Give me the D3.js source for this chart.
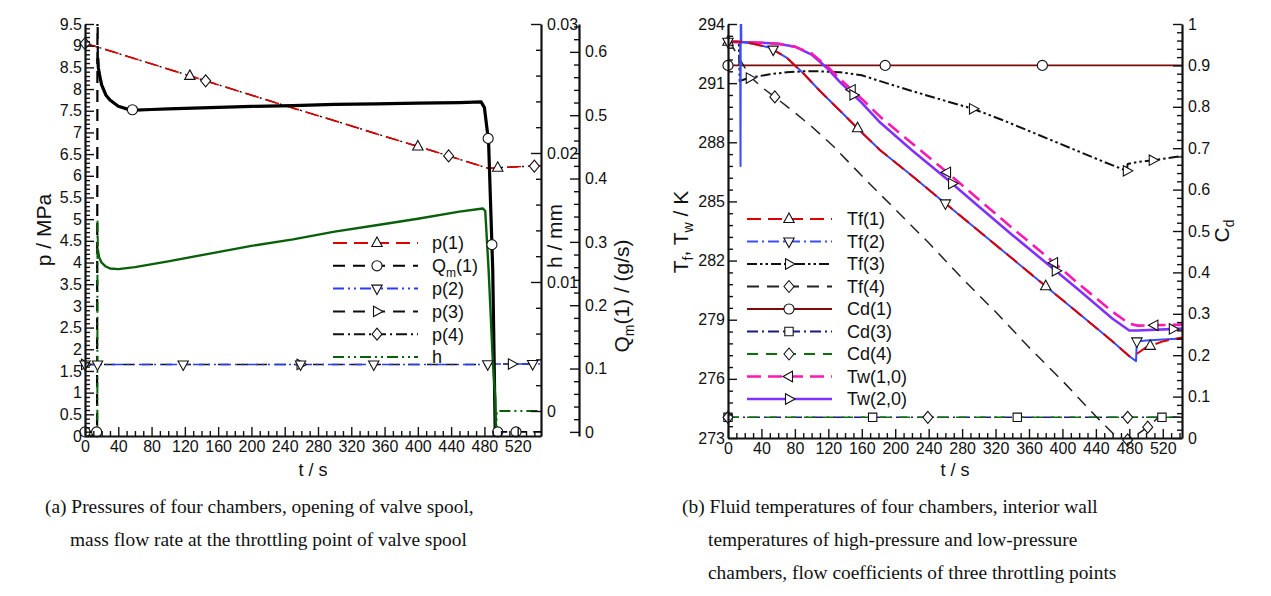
<!DOCTYPE html>
<html>
<head>
<meta charset="utf-8">
<script src="https://cdn.jsdelivr.net/npm/d3@7"></script>
<style>
body { margin: 0; background: #fff; }
text { font-family: "Liberation Sans", Arial, sans-serif; fill: #111; }
.cap { font-family: "Liberation Serif", "Times New Roman", serif; font-size: 19.4px; }
</style>
</head>
<body>
<svg id="fig" width="1271" height="596"></svg>
<script>
// ---------- chart (a): pressures, spool opening, mass flow ----------
var tP1 = [0, 15, 60, 120, 180, 240, 300, 360, 420, 470, 485, 500, 520, 548];
var p1 = [9.05, 8.97, 8.70, 8.34, 7.98, 7.62, 7.27, 6.91, 6.56, 6.26, 6.17, 6.19, 6.21, 6.23];
var tP4 = [0, 15, 60, 120, 180, 240, 300, 360, 420, 470, 485, 500, 520, 548];
var p4 = [9.05, 8.97, 8.70, 8.34, 7.98, 7.62, 7.27, 6.91, 6.56, 6.26, 6.17, 6.19, 6.21, 6.23];
var tP2 = [0, 15, 100, 300, 480, 490, 548];
var p2 = [1.65, 1.65, 1.65, 1.65, 1.65, 1.66, 1.66];
var tP3 = [0, 15, 100, 300, 480, 490, 548];
var p3 = [1.65, 1.65, 1.65, 1.65, 1.65, 1.66, 1.66];
var tQ = [0, 14.5, 15, 15.4, 16, 18, 20, 25, 30, 40, 50, 60, 80, 100, 150, 200, 250, 300, 350, 400, 450, 476, 480, 485, 490, 493, 548];
var qm = [0, 0, 0.70, 0.59, 0.575, 0.560, 0.548, 0.532, 0.524, 0.514, 0.510, 0.508, 0.509, 0.510, 0.512, 0.514, 0.515, 0.517, 0.518, 0.519, 0.520, 0.521, 0.512, 0.458, 0.255, 0, 0];
var tH = [0, 14.8, 15, 15.5, 17, 20, 25, 30, 40, 60, 100, 150, 200, 250, 300, 350, 400, 450, 478, 481, 485, 490, 493, 494, 495, 548];
var hOpen = [-0.0019, -0.0019, 0.0148, 0.0125, 0.0119, 0.0115, 0.0112, 0.01105, 0.0110, 0.01115, 0.0116, 0.0122, 0.0128, 0.0133, 0.0139, 0.0144, 0.0149, 0.01545, 0.0157, 0.0155, 0.011, 0.004, 0.001, -0.0019, 0, 0];

var mkP1 = [126, 400, 496];
var mkQ = [0, 14, 57, 484.5, 489, 496, 518];
var mkP2 = [0, 15, 118, 259, 347, 484, 538];
var mkP3 = [0, 259, 513];
var mkP4 = [0, 145, 437, 540];

var pTicks = d3.range(0, 9.51, 0.5);
var hTicks = [0, 0.01, 0.02, 0.03];
var qTicks = [0, 0.1, 0.2, 0.3, 0.4, 0.5, 0.6];
var tTicks = d3.range(0, 521, 40);

// ---------- chart (b): temperatures and flow coefficients ----------
var tTf1 = [0, 15, 30, 50, 70, 90, 110, 134, 160, 182, 220, 260, 300, 340, 380, 420, 460, 480, 490, 500, 520, 543];
var tf1 = [293.1, 293.1, 293.0, 292.8, 292.3, 291.5, 290.6, 289.6, 288.5, 287.6, 286.3, 284.9, 283.5, 282.1, 280.7, 279.3, 277.9, 277.15, 277.3, 277.6, 277.9, 278.1];
var tTf2 = [0, 14.5, 15, 15.3, 16, 30, 50, 70, 90, 110, 134, 160, 182, 220, 260, 300, 340, 380, 420, 460, 480, 488, 489, 500, 520, 543];
var tf2 = [293.1, 293.1, 286.8, 296, 293.1, 293.0, 292.8, 292.3, 291.5, 290.6, 289.6, 288.5, 287.6, 286.3, 284.9, 283.5, 282.1, 280.7, 279.3, 277.9, 277.15, 276.9, 277.9, 277.95, 278.0, 278.05];
var tTf3 = [0, 13, 14, 20, 30, 50, 70, 90, 110, 134, 160, 182, 220, 260, 293, 330, 370, 410, 450, 477, 478, 490, 510, 543];
var tf3 = [293.1, 293.1, 291.1, 291.2, 291.3, 291.45, 291.55, 291.6, 291.6, 291.55, 291.4, 291.1, 290.6, 290.1, 289.7, 289.1, 288.4, 287.7, 287.0, 286.55, 286.9, 287.0, 287.1, 287.3];
var tTf4 = [0, 5, 10, 20, 30, 40, 56, 80, 100, 126, 160, 200, 240, 280, 320, 360, 400, 440, 466, 478, 490, 502, 515, 543];
var tf4 = [293.1, 292.9, 292.5, 291.8, 291.2, 290.8, 290.3, 289.5, 288.8, 287.8, 286.3, 284.6, 282.9, 281.1, 279.4, 277.6, 275.9, 274.1, 273.0, 272.9, 273.2, 273.55, 274.05, 274.05];
var tTw1 = [0, 40, 60, 80, 100, 120, 134, 160, 182, 220, 260, 293, 340, 380, 420, 460, 480, 490, 543];
var tw1 = [293.1, 293.05, 293.0, 292.85, 292.5, 291.8, 291.2, 290.2, 289.3, 287.95, 286.55, 285.35, 283.65, 282.25, 280.8, 279.4, 278.8, 278.7, 278.75];
var tTw2 = [0, 40, 60, 80, 100, 120, 134, 160, 182, 220, 260, 293, 340, 380, 420, 460, 480, 490, 543];
var tw2 = [293.1, 293.05, 293.0, 292.85, 292.45, 291.7, 291.05, 290.0, 289.0, 287.6, 286.2, 285.0, 283.3, 281.9, 280.5, 279.05, 278.45, 278.45, 278.55];
var tCd = [0, 543];
var cd1 = [0.9, 0.9];
var cd3 = [0.05, 0.05];
var cd4 = [0.05, 0.05];

var mkTf1 = [0, 155, 380, 505];
var mkTf2 = [0, 54, 260, 489];
var mkTf3 = [26, 293, 477, 508];
var mkTf4 = [56, 478, 502];
var mkCd1 = [0, 188, 376];
var mkCd3 = [0, 173, 346, 519];
var mkCd4 = [0, 239, 478];
var mkTw1 = [148, 262, 390, 510];
var mkTw2 = [150, 268, 392, 532];

var TTicks = d3.range(273, 294.1, 3);
var cdTicks = d3.range(0, 1.01, 0.1);

var svg = d3.select("#fig");

// marker shapes
function markerPath(kind) {
    if (kind == "circle") return d3.symbol().type(d3.symbolCircle).size(80)();
    if (kind == "square") return d3.symbol().type(d3.symbolSquare).size(70)();
    if (kind == "diamond") return "M0,-6L5,0L0,6L-5,0Z";
    if (kind == "up") return "M0,-6L5.2,3.5L-5.2,3.5Z";
    if (kind == "down") return "M0,6L5.2,-3.5L-5.2,-3.5Z";
    if (kind == "right") return "M6,0L-3.5,5.2L-3.5,-5.2Z";
    if (kind == "left") return "M-6,0L3.5,5.2L3.5,-5.2Z";
    return null;
}

function minorList(lo, hi, step, majors) {
    return d3.range(lo, hi + step / 2, step).filter(function (v) {
        return !majors.some(function (m) { return Math.abs(m - v) < step / 10; });
    });
}

function drawAxis(g, axisFn, scale, pos, horizontal, majors, minors, fmt, bigLen, smallLen, pad, fs) {
    var a = g.append("g").attr("transform", horizontal ? "translate(0," + pos + ")" : "translate(" + pos + ",0)");
    a.call(axisFn(scale).tickValues(minors).tickSize(-smallLen).tickSizeOuter(0).tickFormat(""));
    a.selectAll(".domain").remove();
    var b = g.append("g").attr("transform", horizontal ? "translate(0," + pos + ")" : "translate(" + pos + ",0)");
    b.call(axisFn(scale).tickValues(majors).tickSize(-bigLen).tickSizeOuter(0).tickPadding(pad).tickFormat(fmt));
    g.selectAll(".tick line").attr("stroke", "#111").attr("stroke-width", 1.4);
    b.select(".domain").attr("stroke", "#111").attr("stroke-width", 2.2);
    b.selectAll(".tick text").attr("font-size", fs).attr("fill", "#111")
        .style("font-family", '"Liberation Sans", Arial, sans-serif');
    return b;
}

function drawSeries(g, x, y, ts, vs, st, ranges) {
    var line = d3.line().x(function (d) { return x(d[0]); }).y(function (d) { return y(d[1]); });
    var pts = ts.map(function (t, i) { return [t, vs[i]]; });
    if (!ranges) ranges = [[ts[0], ts[ts.length - 1], st.dash]];
    ranges.forEach(function (r) {
        var seg = pts.filter(function (d) { return d[0] >= r[0] && d[0] <= r[1]; });
        g.append("path").attr("d", line(seg)).attr("fill", "none")
            .attr("stroke", st.color).attr("stroke-width", r[3] || st.width)
            .attr("stroke-dasharray", r[2] || null)
            .attr("stroke-linejoin", "round");
    });
}

function drawMarkers(g, x, y, ts, vs, mts, kind) {
    var interp = d3.scaleLinear().domain(ts).range(vs);
    g.selectAll(null).data(mts).enter().append("path")
        .attr("d", markerPath(kind))
        .attr("transform", function (t) { return "translate(" + x(t) + "," + y(interp(t)) + ")"; })
        .attr("fill", "#fff").attr("stroke", "#111").attr("stroke-width", 1.1);
}

function legend(g, items, x1, x2, xm, xt, y0, dy, fs) {
    items.forEach(function (it, i) {
        var yy = y0 + i * dy;
        g.append("line").attr("x1", x1).attr("x2", x2).attr("y1", yy).attr("y2", yy)
            .attr("stroke", it.color).attr("stroke-width", it.lw || 2)
            .attr("stroke-dasharray", it.dash || null);
        if (it.mk) g.append("path").attr("d", markerPath(it.mk)).attr("transform", "translate(" + xm + "," + yy + ")")
            .attr("fill", "#fff").attr("stroke", "#111").attr("stroke-width", 1.1);
        var tx = g.append("text").attr("x", xt).attr("y", yy).attr("dy", "0.36em").attr("font-size", fs);
        it.label(tx);
    });
}

function plain(s) { return function (t) { t.text(s); }; }

var DASH_LONG = "14,7", DASH = "11,8", DASH_DOT = "11,4,2,4", DASH_DD = "11,4,2,4,2,4";

// ================= chart (a) =================
var A = { x0: 85, x1: 541, top: 24, bot: 436 };
var xA = d3.scaleLinear().domain([0, 548]).range([A.x0, A.x1]);
var yP = d3.scaleLinear().domain([0, 9.5]).range([A.bot, A.top]);
var yH = d3.scaleLinear().domain([-0.00194, 0.03]).range([A.bot, A.top]);
var yQ = d3.scaleLinear().domain([-0.0065, 0.644]).range([A.bot, A.top]);

var gA = svg.append("g");
svg.append("clipPath").attr("id", "clipA").append("rect")
    .attr("x", A.x0).attr("y", A.top).attr("width", A.x1 - A.x0).attr("height", A.bot - A.top);
var plotA = gA.append("g").attr("clip-path", "url(#clipA)");

drawSeries(plotA, xA, yP, tP4, p4, { color: "#111", width: 1.4, dash: DASH_DOT });
drawSeries(plotA, xA, yP, tP1, p1, { color: "#e00000", width: 1.6, dash: DASH_LONG });
drawSeries(plotA, xA, yP, tP3, p3, { color: "#111", width: 1.4, dash: DASH });
drawSeries(plotA, xA, yP, tP2, p2, { color: "#2a3cff", width: 1.6, dash: DASH_DD });
drawSeries(plotA, xA, yQ, tQ, qm, { color: "#000", width: 2 },
    [[0, 15.4, "12,7", 2.2], [15.4, 493, null, 3.2], [493, 548, "12,7", 1.8]]);
drawSeries(plotA, xA, yH, tH, hOpen, { color: "#0a5f0a", width: 2 },
    [[0, 15.5, DASH_DD, 2], [15.5, 494, null, 2.4], [494, 548, DASH_DD, 2]]);

drawMarkers(gA, xA, yP, tP4, p4, mkP4, "diamond");
drawMarkers(gA, xA, yP, tP1, p1, mkP1, "up");
drawMarkers(gA, xA, yP, tP3, p3, mkP3, "right");
drawMarkers(gA, xA, yP, tP2, p2, mkP2, "down");
drawMarkers(gA, xA, yQ, tQ, qm, mkQ, "circle");

var fmtNum = function (d) { return String(+d.toFixed(3)); };
drawAxis(gA, d3.axisBottom, xA, A.bot, true, tTicks, minorList(0, 540, 10, tTicks), d3.format("d"), 9, 5, 5, 16);
drawAxis(gA, d3.axisLeft, yP, A.x0, false, pTicks, minorList(0, 9.5, 0.1, pTicks), fmtNum, 9, 5, 3, 16);
drawAxis(gA, d3.axisRight, yH, A.x1, false, hTicks, minorList(0, 0.03, 0.002, hTicks), fmtNum, 10, 5, 6, 16);
drawAxis(gA, d3.axisRight, yQ, 579, false, qTicks, minorList(0, 0.64, 0.02, qTicks), fmtNum, 9, 5, 6, 16);

gA.append("text").attr("transform", "translate(51,230) rotate(-90)").attr("text-anchor", "middle")
    .attr("font-size", 21).text("p / MPa");
gA.append("text").attr("transform", "translate(562,236) rotate(-90)").attr("text-anchor", "middle")
    .attr("font-size", 21).text("h / mm");
var qLab = gA.append("text").attr("transform", "translate(629,296) rotate(-90)").attr("text-anchor", "middle")
    .attr("font-size", 21);
qLab.append("tspan").text("Q");
qLab.append("tspan").attr("font-size", 14).attr("dy", 5).text("m");
qLab.append("tspan").attr("dy", -5).text("(1) / (g/s)");
gA.append("text").attr("x", 313).attr("y", 476).attr("text-anchor", "middle").attr("font-size", 18).text("t / s");

legend(gA, [
    { color: "#e00000", dash: DASH_LONG, mk: "up", label: plain("p(1)") },
    { color: "#000", dash: "12,8", mk: "circle", label: function (t) {
        t.append("tspan").text("Q"); t.append("tspan").attr("font-size", 12).attr("dy", 5).text("m");
        t.append("tspan").attr("dy", -5).text("(1)"); } },
    { color: "#2a3cff", dash: DASH_DD, mk: "down", label: plain("p(2)") },
    { color: "#111", dash: "12,8", mk: "right", label: plain("p(3)") },
    { color: "#111", dash: DASH_DOT, mk: "diamond", label: plain("p(4)") },
    { color: "#0a5f0a", dash: DASH_DD, lw: 2.2, label: plain("h") }
], 333, 418, 377, 432, 243, 22.8, 18);

// ================= chart (b) =================
var B = { x0: 728, x1: 1182, top: 24, bot: 438 };
var xB = d3.scaleLinear().domain([0, 543]).range([B.x0, B.x1]);
var yT = d3.scaleLinear().domain([273, 294]).range([B.bot, B.top]);
var yC = d3.scaleLinear().domain([0, 1]).range([B.bot, B.top]);

var gB = svg.append("g");
svg.append("clipPath").attr("id", "clipB").append("rect")
    .attr("x", B.x0).attr("y", B.top).attr("width", B.x1 - B.x0).attr("height", B.bot - B.top);
var plotB = gB.append("g").attr("clip-path", "url(#clipB)");

drawSeries(plotB, xB, yC, tCd, cd1, { color: "#7a0c0c", width: 1.8 });
drawSeries(plotB, xB, yC, tCd, cd3, { color: "#1a1a80", width: 1.5, dash: DASH_DOT });
drawSeries(plotB, xB, yC, tCd, cd4, { color: "#0a700a", width: 1.5, dash: DASH });
drawSeries(plotB, xB, yT, tTf4, tf4, { color: "#222", width: 1.5, dash: "12,8" });
drawSeries(plotB, xB, yT, tTf3, tf3, { color: "#111", width: 2, dash: "10,3,2.5,3,2.5,3" });
drawSeries(plotB, xB, yT, tTw2, tw2, { color: "#8030ff", width: 2.6 });
drawSeries(plotB, xB, yT, tTw1, tw1, { color: "#ff18b0", width: 2.6, dash: DASH_LONG });
drawSeries(plotB, xB, yT, tTf2, tf2, { color: "#3a4cff", width: 2 });
drawSeries(plotB, xB, yT, tTf1, tf1, { color: "#dd0000", width: 2, dash: DASH_LONG });

drawMarkers(gB, xB, yC, tCd, cd1, mkCd1, "circle");
drawMarkers(gB, xB, yC, tCd, cd3, mkCd3, "square");
drawMarkers(gB, xB, yC, tCd, cd4, mkCd4, "diamond");
drawMarkers(gB, xB, yT, tTf4, tf4, mkTf4, "diamond");
drawMarkers(gB, xB, yT, tTf3, tf3, mkTf3, "right");
drawMarkers(gB, xB, yT, tTw1, tw1, mkTw1, "left");
drawMarkers(gB, xB, yT, tTw2, tw2, mkTw2, "right");
drawMarkers(gB, xB, yT, tTf1, tf1, mkTf1, "up");
drawMarkers(gB, xB, yT, tTf2, tf2, mkTf2, "down");

drawAxis(gB, d3.axisBottom, xB, B.bot, true, tTicks, minorList(0, 540, 10, tTicks), d3.format("d"), 9, 5, 5, 16);
drawAxis(gB, d3.axisLeft, yT, B.x0, false, TTicks, minorList(273, 294, 0.6, TTicks), d3.format("d"), 9, 5, 3, 16);
drawAxis(gB, d3.axisRight, yC, B.x1, false, cdTicks, minorList(0, 1, 0.02, cdTicks), fmtNum, 9, 5, 6, 16);

var tLab = gB.append("text").attr("transform", "translate(688,232) rotate(-90)").attr("text-anchor", "middle")
    .attr("font-size", 21);
tLab.append("tspan").text("T");
tLab.append("tspan").attr("font-size", 14).attr("dy", 5).text("f");
tLab.append("tspan").attr("dy", -5).text(", T");
tLab.append("tspan").attr("font-size", 14).attr("dy", 5).text("w");
tLab.append("tspan").attr("dy", -5).text(" / K");
var cLab = gB.append("text").attr("transform", "translate(1229,231) rotate(-90)").attr("text-anchor", "middle")
    .attr("font-size", 21);
cLab.append("tspan").text("C");
cLab.append("tspan").attr("font-size", 14).attr("dy", 5).text("d");
gB.append("text").attr("x", 955).attr("y", 476).attr("text-anchor", "middle").attr("font-size", 18).text("t / s");

legend(gB, [
    { color: "#dd0000", dash: DASH_LONG, mk: "up", lw: 2.2, label: plain("Tf(1)") },
    { color: "#3a4cff", dash: DASH_DOT, mk: "down", label: plain("Tf(2)") },
    { color: "#111", dash: "10,3,2.5,3,2.5,3", mk: "right", lw: 2.2, label: plain("Tf(3)") },
    { color: "#222", dash: "12,8", mk: "diamond", label: plain("Tf(4)") },
    { color: "#7a0c0c", mk: "circle", label: plain("Cd(1)") },
    { color: "#1a1a80", dash: DASH_DOT, mk: "square", label: plain("Cd(3)") },
    { color: "#0a700a", dash: DASH, mk: "diamond", label: plain("Cd(4)") },
    { color: "#ff18b0", dash: DASH_LONG, mk: "left", lw: 2.6, label: plain("Tw(1,0)") },
    { color: "#8030ff", mk: "right", lw: 2.6, label: plain("Tw(2,0)") }
], 747, 832, 789, 847, 219, 22.5, 18);

// ================= captions =================
var capA = ["(a) Pressures of four chambers, opening of valve spool,",
            "mass flow rate at the throttling point of valve spool"];
var capB = ["(b) Fluid temperatures of four chambers, interior wall",
            "temperatures of high-pressure and low-pressure",
            "chambers, flow coefficients of three throttling points"];
capA.forEach(function (s, i) {
    svg.append("text").attr("class", "cap").attr("x", i ? 70 : 45).attr("y", 513 + i * 33).text(s);
});
capB.forEach(function (s, i) {
    svg.append("text").attr("class", "cap").attr("x", i ? 708 : 682).attr("y", 513 + i * 33).text(s);
});
</script>
</body>
</html>
